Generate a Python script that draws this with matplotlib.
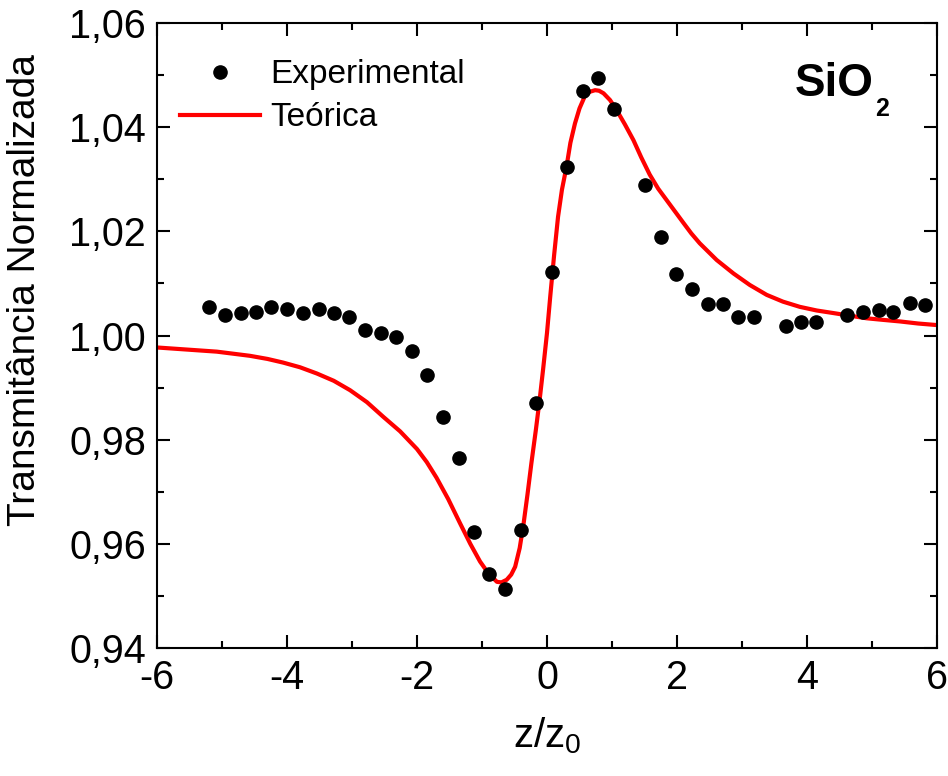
import matplotlib
matplotlib.use("Agg")
import matplotlib.pyplot as plt
from matplotlib.ticker import MultipleLocator, FuncFormatter

plt.rcParams['font.family'] = ['Liberation Sans', 'DejaVu Sans']

# Experimental data (z/z0, normalized transmittance)
exp_z = [-5.20, -4.95, -4.71, -4.48, -4.24, -4.00, -3.75, -3.51, -3.28, -3.04,
         -2.80, -2.56, -2.32, -2.08, -1.85, -1.60, -1.36, -1.12, -0.89, -0.65,
         -0.40, -0.17, 0.07, 0.31, 0.55, 0.79, 1.03, 1.51, 1.75, 1.98,
         2.23, 2.47, 2.71, 2.94, 3.18, 3.67, 3.90, 4.14, 4.62, 4.86,
         5.10, 5.33, 5.58, 5.82]
exp_t = [1.0054, 1.0039, 1.0043, 1.0046, 1.0054, 1.0050, 1.0044, 1.0051, 1.0043, 1.0035,
         1.0011, 1.0004, 0.9997, 0.9970, 0.9924, 0.9844, 0.9765, 0.9623, 0.9543, 0.9513,
         0.9627, 0.9871, 1.0121, 1.0324, 1.0470, 1.0494, 1.0435, 1.0289, 1.0189, 1.0118,
         1.0089, 1.0060, 1.0060, 1.0035, 1.0035, 1.0019, 1.0025, 1.0025, 1.0039, 1.0045,
         1.0049, 1.0046, 1.0063, 1.0059]

# Theoretical curve
teo_z = [-6.00, -5.54, -5.08, -4.57, -4.30, -4.06, -3.80, -3.54, -3.28, -3.03,
         -2.77, -2.52, -2.26, -2.00, -1.85, -1.70, -1.52, -1.34, -1.18, -1.03,
         -0.90, -0.77, -0.70, -0.62, -0.55, -0.49, -0.42, -0.36, -0.30, -0.24,
         -0.17, -0.11, -0.06, 0.00, 0.05, 0.11, 0.17, 0.23, 0.30, 0.36,
         0.43, 0.50, 0.58, 0.66, 0.74, 0.80, 0.87, 0.97, 1.07, 1.20,
         1.33, 1.45, 1.58, 1.71, 1.84, 1.97, 2.10, 2.22, 2.35, 2.61,
         2.87, 3.12, 3.38, 3.63, 3.89, 4.15, 4.41, 4.66, 4.92, 5.17,
         5.43, 5.71, 6.00]
teo_t = [0.9977, 0.9973, 0.9969, 0.9961, 0.9955, 0.9948, 0.9939, 0.9927, 0.9913, 0.9895,
         0.9872, 0.9844, 0.9816, 0.9782, 0.9757, 0.9727, 0.9686, 0.9640, 0.9600, 0.9566,
         0.9543, 0.9527, 0.9526, 0.9531, 0.9541, 0.9556, 0.9592, 0.9639, 0.9695, 0.9755,
         0.9820, 0.9880, 0.9935, 1.0005, 1.0075, 1.0155, 1.0228, 1.0280, 1.0324, 1.0370,
         1.0407, 1.0436, 1.0459, 1.0468, 1.0471, 1.0470, 1.0465, 1.0452, 1.0433, 1.0405,
         1.0375, 1.0342, 1.0309, 1.0282, 1.0260, 1.0238, 1.0216, 1.0196, 1.0177, 1.0145,
         1.0119, 1.0097, 1.0078, 1.0065, 1.0055, 1.0048, 1.0043, 1.0038, 1.0033, 1.0030,
         1.0027, 1.0023, 1.0020]

fig = plt.figure(figsize=(9.48, 7.76), dpi=100)
ax = fig.add_axes([157/948, 1-648/776, (937-157)/948, (648-23)/776])

ax.plot(exp_z, exp_t, 'o', color='black', markersize=9.5, label='Experimental', zorder=3)
ax.plot(teo_z, teo_t, '-', color='#ff0000', linewidth=3, label='Teórica', zorder=2,
        solid_joinstyle='round')

ax.set_xlim(-6, 6)
ax.set_ylim(0.94, 1.06)
ax.xaxis.set_major_locator(MultipleLocator(2))
ax.xaxis.set_minor_locator(MultipleLocator(1))
ax.yaxis.set_major_locator(MultipleLocator(0.02))
ax.yaxis.set_minor_locator(MultipleLocator(0.01))
ax.yaxis.set_major_formatter(FuncFormatter(lambda v, p: f"{v:.2f}".replace('.', ',')))
ax.xaxis.set_major_formatter(FuncFormatter(lambda v, p: f"{int(round(v))}"))

ax.tick_params(which='both', direction='in', top=True, right=True, width=1.5,
               labelsize=28.5, pad=8)
ax.tick_params(which='major', length=9.5)
ax.tick_params(which='minor', length=5)
for s in ax.spines.values():
    s.set_linewidth(1.5)

ax.set_xlabel('z/z$_\\mathregular{0}$', fontsize=29, labelpad=13)
ax.set_ylabel('Transmitância Normalizada', fontsize=28)
ax.yaxis.set_label_coords(-0.146, 0.572)

ax.legend(loc='upper left', bbox_to_anchor=(0.0, 0.979), frameon=False, fontsize=24,
          handlelength=2.4, handletextpad=0.3, borderaxespad=0.3, labelspacing=0.36)

ax.text(0.818, 0.883, 'SiO', transform=ax.transAxes, fontsize=33,
        fontweight='bold', ha='left', va='baseline')
ax.text(0.921, 0.851, '2', transform=ax.transAxes, fontsize=18,
        fontweight='bold', ha='left', va='baseline')

fig.savefig('out.png', dpi=100)
